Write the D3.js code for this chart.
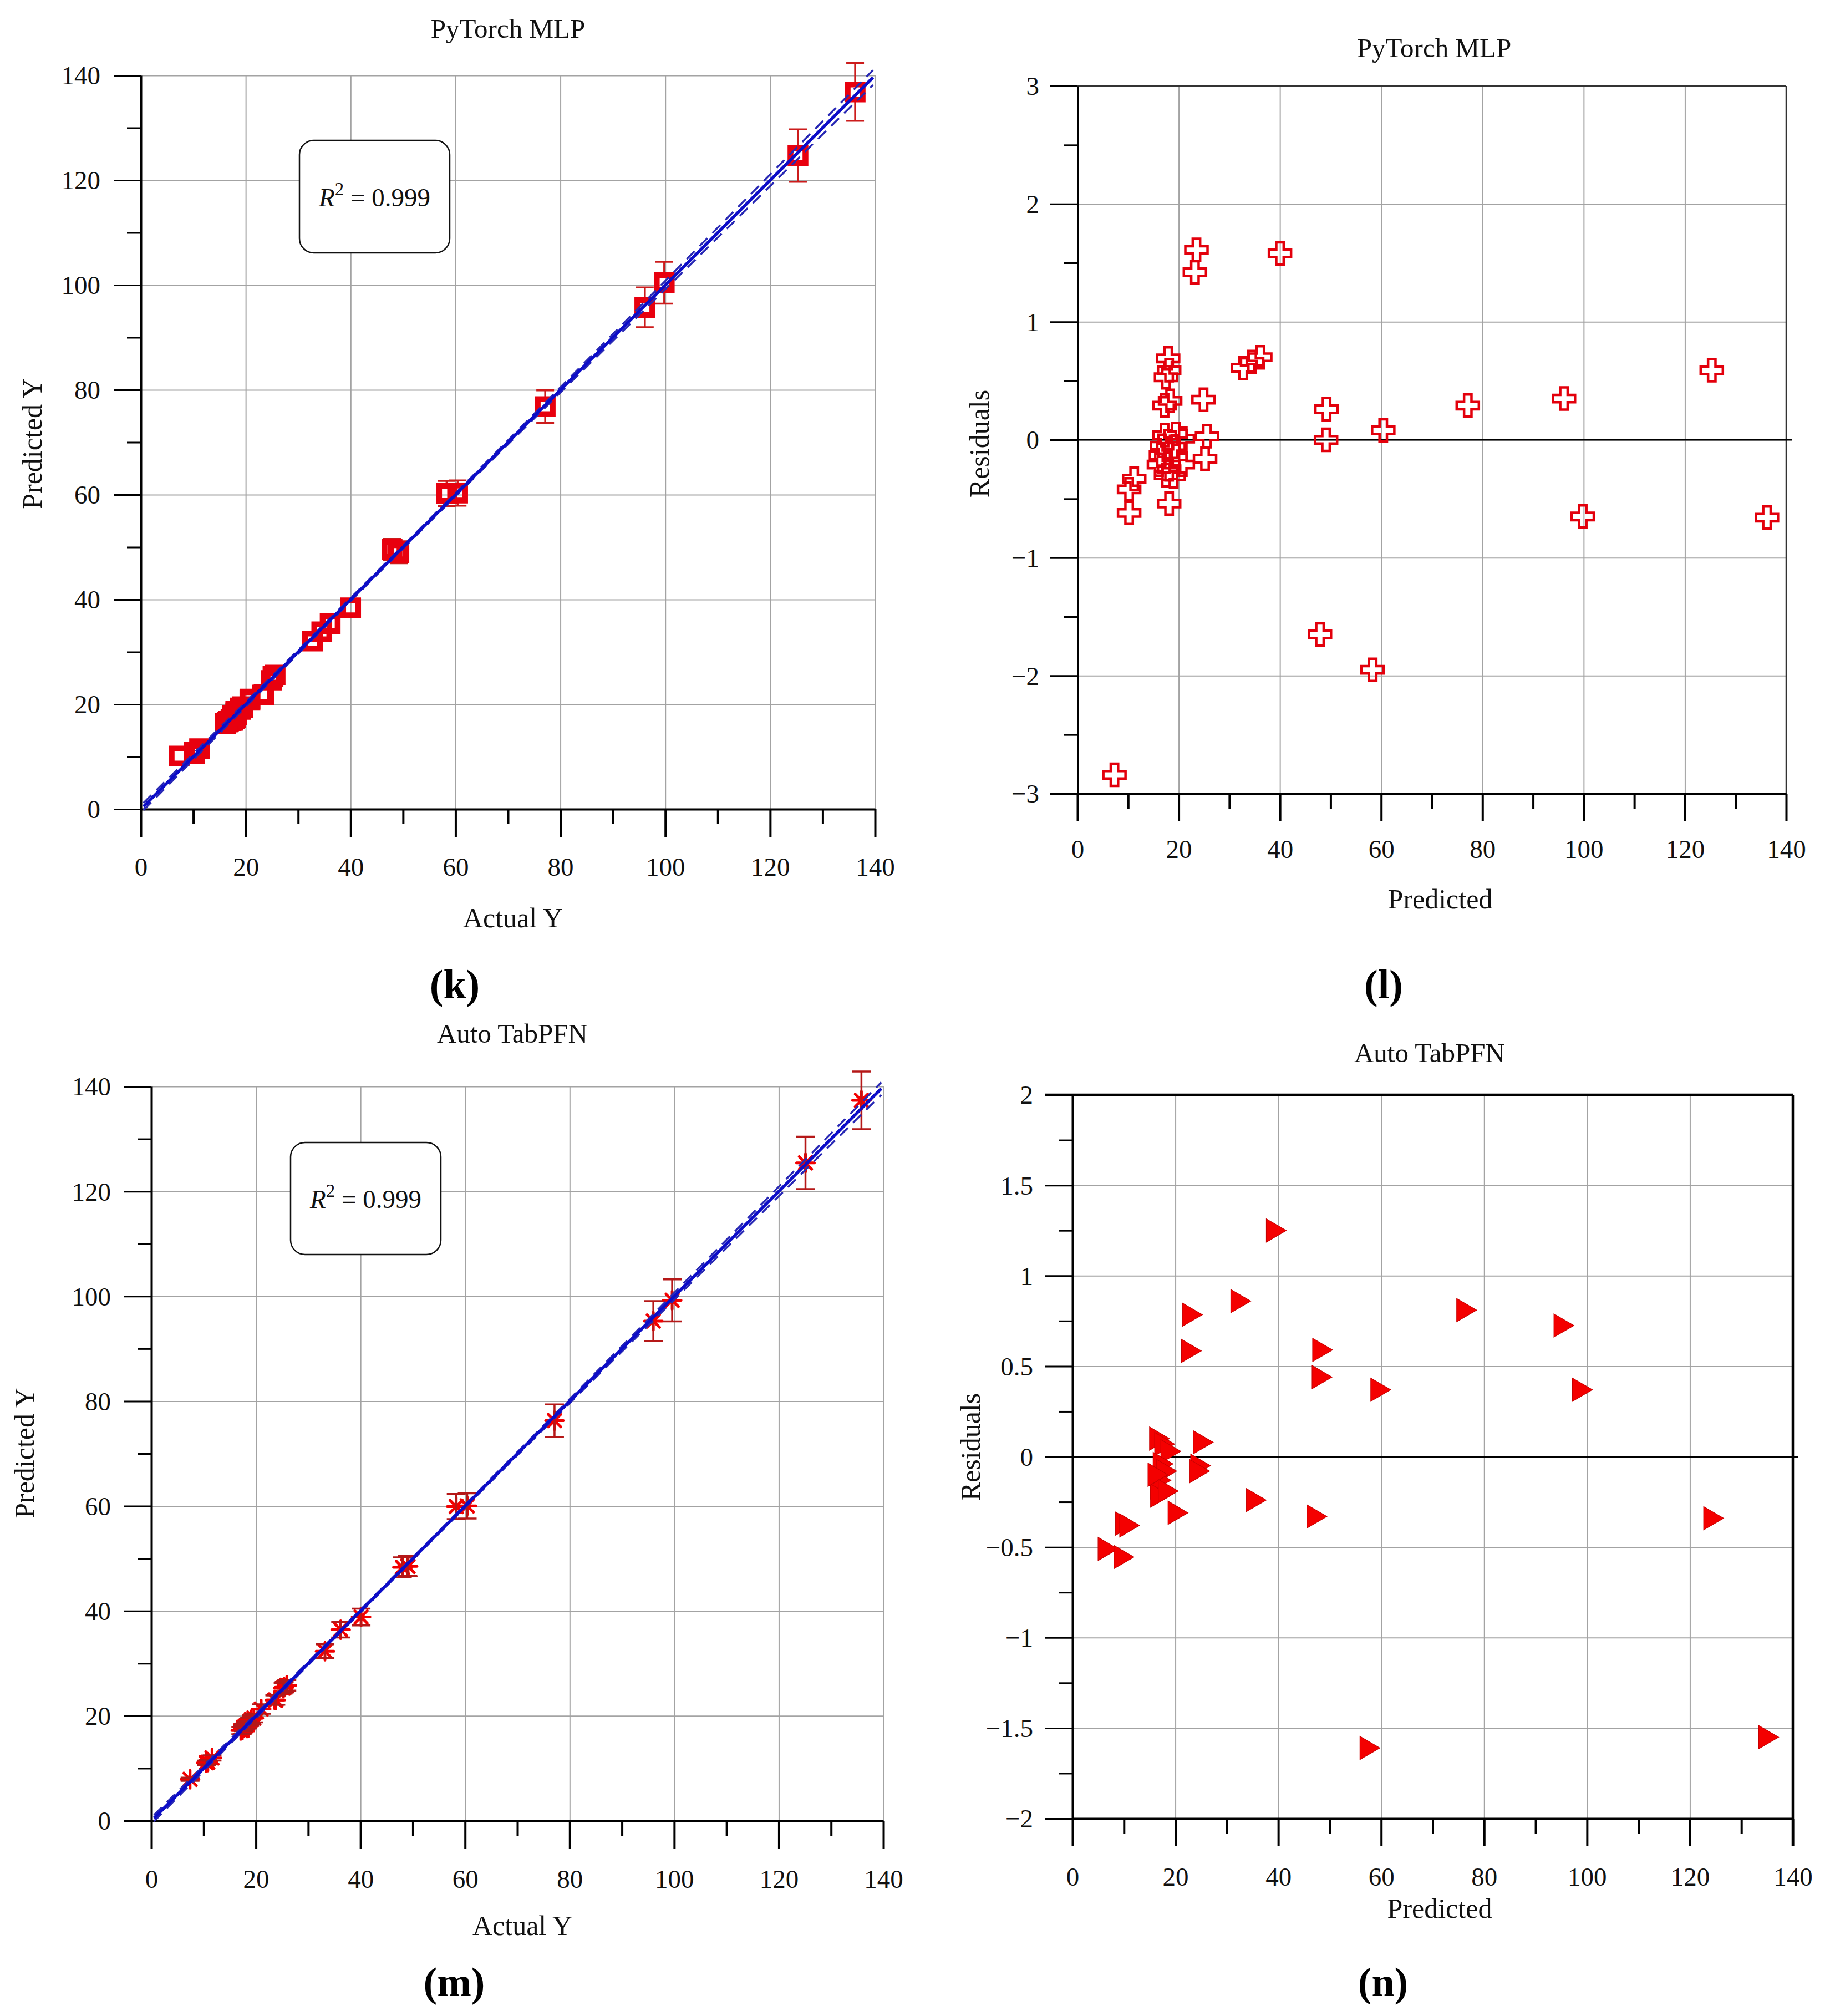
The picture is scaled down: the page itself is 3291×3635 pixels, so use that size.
<!DOCTYPE html>
<html><head><meta charset="utf-8">
<script src="https://cdn.jsdelivr.net/npm/d3@7"></script>
<style>body{margin:0;background:#fff} svg text{font-family:'Liberation Serif','Times New Roman',serif}</style>
</head><body><svg id="c" width="3291" height="3635"></svg>
<script>
// ---------------- DATA ----------------
const parityTicks = [0, 20, 40, 60, 80, 100, 120, 140];
const parityMinor = [10, 30, 50, 70, 90, 110, 130];
const resXTicks = [0, 20, 40, 60, 80, 100, 120, 140];
const resXMinor = [10, 30, 50, 70, 90, 110, 130];
const resTicksMLP = [-3, -2, -1, 0, 1, 2, 3];
const resMinorMLP = [-2.5, -1.5, -0.5, 0.5, 1.5, 2.5];
const resTicksTab = [-2, -1.5, -1, -0.5, 0, 0.5, 1, 1.5, 2];
const resMinorTab = [-1.75, -1.25, -0.75, -0.25, 0.25, 0.75, 1.25, 1.75];

const titles = ["PyTorch MLP", "PyTorch MLP", "Auto TabPFN", "Auto TabPFN"];
const panelLabels = ["(k)", "(l)", "(m)", "(n)"];
const r2Text = "0.999";

// PyTorch MLP : actual vs predicted (k)
const mlpActual = [7.3, 10.2, 10.2, 11.2, 17.9, 18.1, 17.5, 18.3, 17.2, 18.1, 17.2, 19.4, 20.8, 16.7, 19.0, 16.5, 19.4, 16.1, 20.8, 18.1, 19.0, 17.5, 23.5, 23.2, 24.9, 25.6, 25.2, 32.7, 34.5, 36.1, 40.0, 49.2, 49.1, 47.9, 58.3, 60.4, 77.1, 96.1, 99.8, 125.3, 136.2];
const mlpPredicted = [10.14, 10.82, 10.62, 11.53, 17.21, 17.51, 16.97, 17.97, 16.91, 18.64, 17.16, 19.35, 20.79, 16.75, 19.06, 16.63, 19.54, 16.31, 21.01, 18.35, 19.31, 17.80, 21.89, 21.78, 24.56, 25.57, 25.36, 32.09, 33.84, 35.40, 38.42, 48.94, 49.10, 49.55, 60.25, 60.32, 76.81, 95.75, 100.45, 124.71, 136.86];
const mlpError = [0.4, 0.4, 0.4, 0.5, 0.7, 0.7, 0.7, 0.7, 0.7, 0.7, 0.7, 0.8, 0.8, 0.7, 0.8, 0.7, 0.8, 0.7, 0.8, 0.7, 0.8, 0.7, 0.9, 0.9, 1.0, 1.0, 1.0, 1.3, 1.4, 1.4, 1.5, 2.0, 2.0, 2.0, 2.4, 2.4, 3.1, 3.8, 4.0, 5.0, 5.5];
// PyTorch MLP : residuals (l)
const mlpResX = [7.3, 10.2, 10.2, 11.2, 17.9, 18.1, 17.5, 18.3, 17.2, 18.1, 17.2, 19.4, 20.8, 16.7, 19.0, 16.5, 19.4, 16.1, 20.8, 18.1, 19.0, 17.5, 23.5, 23.2, 24.9, 25.6, 25.2, 32.7, 34.5, 36.1, 40.0, 49.2, 49.1, 47.9, 58.3, 60.4, 77.1, 96.1, 99.8, 125.3, 136.2];
const mlpResiduals = [-2.84, -0.62, -0.42, -0.33, 0.69, 0.59, 0.53, 0.33, 0.29, -0.54, 0.04, 0.05, 0.01, -0.05, -0.06, -0.13, -0.14, -0.21, -0.21, -0.25, -0.31, -0.30, 1.61, 1.42, 0.34, 0.03, -0.16, 0.61, 0.66, 0.70, 1.58, 0.26, 0.00, -1.65, -1.95, 0.08, 0.29, 0.35, -0.65, 0.59, -0.66];

// Auto TabPFN : actual vs predicted (m)
const tabActual = [7.4, 10.5, 10.8, 11.6, 17.4, 18.4, 19.6, 18.1, 18.8, 17.7, 17.6, 17.6, 21.0, 23.6, 23.8, 25.9, 25.4, 25.2, 33.2, 36.2, 40.1, 49.1, 49.0, 48.0, 58.3, 60.4, 77.1, 96.0, 99.6, 125.1, 135.8, 17.1, 19.1];
const tabPredicted = [7.91, 11.06, 11.17, 11.98, 17.30, 18.33, 19.57, 18.14, 18.88, 17.83, 17.77, 17.82, 21.31, 23.02, 23.02, 25.82, 25.45, 25.28, 32.34, 36.44, 38.85, 48.51, 48.56, 48.33, 59.91, 60.03, 76.29, 95.28, 99.23, 125.44, 137.35, 17.20, 19.29];
const tabError = [0.3, 0.4, 0.4, 0.5, 0.7, 0.7, 0.8, 0.7, 0.8, 0.7, 0.7, 0.7, 0.9, 0.9, 0.9, 1.0, 1.0, 1.0, 1.3, 1.5, 1.6, 1.9, 1.9, 1.9, 2.4, 2.4, 3.1, 3.8, 4.0, 5.0, 5.5, 0.7, 0.8];
// Auto TabPFN : residuals (n)
const tabResX = [6.8, 9.9, 10.2, 11.0, 16.8, 17.8, 19.0, 17.5, 18.2, 17.1, 17.0, 17.0, 20.4, 23.0, 23.2, 25.3, 24.8, 24.6, 32.6, 35.6, 39.5, 48.5, 48.4, 47.4, 57.7, 59.8, 76.5, 95.4, 99.0, 124.5, 135.2, 16.5, 18.5];
const tabResiduals = [-0.51, -0.555, -0.37, -0.38, 0.10, 0.07, 0.03, -0.04, -0.08, -0.13, -0.17, -0.215, -0.31, 0.585, 0.785, 0.08, -0.05, -0.08, 0.86, -0.24, 1.25, 0.59, 0.44, -0.33, -1.61, 0.37, 0.81, 0.725, 0.37, -0.34, -1.55, -0.10, -0.19];

// fitted line and confidence band (half widths)
const fitX = [0.5, 139.6];
const fitY = [0.5, 139.6];
const bandX = [0.5, 20, 40, 60, 80, 100, 120, 139.6];
const bandHalfMLP = [0.7, 0.45, 0.3, 0.3, 0.5, 0.8, 1.1, 1.4];
const bandHalfTab = [0.6, 0.4, 0.25, 0.25, 0.4, 0.65, 0.9, 1.2];

// ---------------- DRAW ----------------
const FONT = "'Liberation Serif','Times New Roman',serif";
const svg = d3.select('#c');
svg.append('rect').attr('width', 3291).attr('height', 3635).attr('fill', '#fff');
svg.attr('font-family', FONT);

const GRID = '#a3a3a3';

function drawAxes(g, x, y, o) {
  const [x0, x1] = x.range(), [y0, y1] = y.range();
  // grids
  g.append('g').attr('transform', `translate(0,${y0})`)
    .call(d3.axisBottom(x).tickValues(o.xTicks).tickSize(-(y0 - y1)).tickFormat('').tickSizeOuter(0))
    .call(s => s.select('.domain').remove())
    .call(s => s.selectAll('line').attr('stroke', GRID).attr('stroke-width', 2));
  g.append('g').attr('transform', `translate(${x0},0)`)
    .call(d3.axisLeft(y).tickValues(o.yTicks).tickSize(-(x1 - x0)).tickFormat('').tickSizeOuter(0))
    .call(s => s.select('.domain').remove())
    .call(s => s.selectAll('line').attr('stroke', GRID).attr('stroke-width', 2));
  if (o.frame) {
    g.append('line').attr('x1', x0 - 49).attr('x2', x1).attr('y1', y1).attr('y2', y1)
      .attr('stroke', o.frame.color).attr('stroke-width', o.frame.w);
    g.append('line').attr('x1', x1).attr('x2', x1).attr('y1', y1).attr('y2', y0 + (o.frameBottom || 0))
      .attr('stroke', o.frame.color).attr('stroke-width', o.frame.w);
  }
  if (o.zeroLine) {
    g.append('line').attr('x1', x0).attr('x2', x1 + 10).attr('y1', y(0)).attr('y2', y(0))
      .attr('stroke', '#000').attr('stroke-width', 3);
  }
  // minor ticks
  g.append('g').attr('transform', `translate(0,${y0})`)
    .call(d3.axisBottom(x).tickValues(o.xMinor).tickSize(27).tickFormat('').tickSizeOuter(0))
    .call(s => s.select('.domain').remove())
    .call(s => s.selectAll('line').attr('stroke', '#000').attr('stroke-width', 4));
  g.append('g').attr('transform', `translate(${x0},0)`)
    .call(d3.axisLeft(y).tickValues(o.yMinor).tickSize(25).tickFormat('').tickSizeOuter(0))
    .call(s => s.select('.domain').remove())
    .call(s => s.selectAll('line').attr('stroke', '#000').attr('stroke-width', 3));
  // major axes
  const fmt = d => (d < 0 ? '\u2212' + Math.abs(d) : '' + d);
  g.append('g').attr('transform', `translate(0,${y0})`)
    .call(d3.axisBottom(x).tickValues(o.xTicks).tickSize(50).tickFormat(fmt).tickSizeOuter(0))
    .attr('font-family', FONT).attr('font-size', 47)
    .call(s => s.select('.domain').attr('stroke', '#000').attr('stroke-width', 4))
    .call(s => s.selectAll('.tick line').attr('stroke', '#000').attr('stroke-width', 4))
    .call(s => s.selectAll('text').attr('y', o.xLabOff).attr('dy', null)
      .attr('fill', '#111').style('font-size', '47px').style('font-family', FONT));
  g.append('g').attr('transform', `translate(${x0},0)`)
    .call(d3.axisLeft(y).tickValues(o.yTicks).tickSize(49).tickFormat(fmt).tickSizeOuter(0))
    .attr('font-family', FONT).attr('font-size', 47)
    .call(s => s.select('.domain').attr('stroke', '#000').attr('stroke-width', o.yAxisW || 4))
    .call(s => s.selectAll('.tick line').attr('stroke', '#000').attr('stroke-width', 3))
    .call(s => s.selectAll('text').attr('x', -o.yLabOff).attr('dy', '0.34em')
      .attr('fill', '#111').style('font-size', '47px').style('font-family', FONT));
}

function texts(g, o) {
  g.append('text').attr('x', o.title[0]).attr('y', o.title[1]).attr('text-anchor', 'middle')
    .style('font-size', '49px').attr('fill', '#111').text(o.titleText);
  g.append('text').attr('transform', `translate(${o.yTitle[0]},${o.yTitle[1]}) rotate(-90)`)
    .attr('text-anchor', 'middle').attr('dy', '0.34em').style('font-size', '50px').attr('fill', '#111')
    .text(o.yTitleText);
  g.append('text').attr('x', o.xTitle[0]).attr('y', o.xTitle[1]).attr('text-anchor', 'middle')
    .style('font-size', '50px').attr('fill', '#111').text(o.xTitleText);
  g.append('text').attr('x', o.label[0]).attr('y', o.label[1]).attr('text-anchor', 'middle')
    .style('font-size', '74px').style('font-weight', 'bold').attr('fill', '#000').text(o.labelText);
}

function fitLines(g, x, y, half) {
  const line = d3.line().x(d => x(d[0])).y(d => y(d[1]));
  const band = d3.line().x(d => x(d[0])).y(d => y(d[1])).curve(d3.curveCatmullRom);
  const up = bandX.map((v, i) => [v, v + half[i]]);
  const lo = bandX.map((v, i) => [v, v - half[i]]);
  [up, lo].forEach(pts => g.append('path').attr('d', band(pts)).attr('fill', 'none')
    .attr('stroke', '#2828b4').attr('stroke-width', 3.5).attr('stroke-dasharray', '20,13'));
  g.append('path').attr('d', line(fitX.map((v, i) => [v, fitY[i]]))).attr('fill', 'none')
    .attr('stroke', '#0c0cc8').attr('stroke-width', 5.5);
}

function r2Box(g, bx, by, bw, bh) {
  g.append('rect').attr('x', bx).attr('y', by).attr('width', bw).attr('height', bh)
    .attr('rx', 26).attr('ry', 26).attr('fill', '#fff').attr('stroke', '#111').attr('stroke-width', 2.5);
  const t = g.append('text').attr('x', bx + bw / 2).attr('y', by + bh / 2 + 17)
    .attr('text-anchor', 'middle').style('font-size', '47px').attr('fill', '#111');
  t.append('tspan').style('font-style', 'italic').text('R');
  t.append('tspan').attr('dy', -20).style('font-size', '33px').text('2');
  t.append('tspan').attr('dy', 20).text(' = ' + r2Text);
}

// ---------- Panel k ----------
{
  const g = svg.append('g');
  const x = d3.scaleLinear().domain([0, 140]).range([254, 1578]);
  const y = d3.scaleLinear().domain([0, 140]).range([1459, 136]);
  drawAxes(g, x, y, { xTicks: parityTicks, yTicks: parityTicks, xMinor: parityMinor, yMinor: parityMinor, xLabOff: 120, yLabOff: 73 });
  const pts = mlpActual.map((a, i) => ({ a, p: mlpPredicted[i], e: mlpError[i] }));
  const half = 18;
  const eb = g.append('g').attr('stroke', '#cc1c1c').attr('stroke-width', 3.5);
  pts.forEach(d => {
    const cx = x(d.a), cy = y(d.p), top = y(d.p + d.e), bot = y(d.p - d.e);
    if (cy - top > half) {
      eb.append('line').attr('x1', cx).attr('x2', cx).attr('y1', top).attr('y2', cy - half);
      eb.append('line').attr('x1', cx).attr('x2', cx).attr('y1', bot).attr('y2', cy + half);
      eb.append('line').attr('x1', cx - 16).attr('x2', cx + 16).attr('y1', top).attr('y2', top);
      eb.append('line').attr('x1', cx - 16).attr('x2', cx + 16).attr('y1', bot).attr('y2', bot);
    }
  });
  g.append('g').selectAll('path').data(pts).join('path')
    .attr('d', d3.symbol(d3.symbolSquare, 27 * 27)())
    .attr('transform', d => `translate(${x(d.a)},${y(d.p)})`)
    .attr('fill', 'none').attr('stroke', '#e8000e').attr('stroke-width', 10.5);
  fitLines(g, x, y, bandHalfMLP);
  r2Box(g, 540, 253, 271, 203);
  texts(g, { title: [916, 68], titleText: titles[0], yTitle: [58, 800], yTitleText: 'Predicted Y',
    xTitle: [925, 1672], xTitleText: 'Actual Y', label: [820, 1800], labelText: panelLabels[0] });
}

// ---------- Panel l ----------
{
  const g = svg.append('g');
  const x = d3.scaleLinear().domain([0, 140]).range([1943, 3221]);
  const y = d3.scaleLinear().domain([-3, 3]).range([1431, 155]);
  drawAxes(g, x, y, { xTicks: resXTicks, yTicks: resTicksMLP, xMinor: resXMinor, yMinor: resMinorMLP,
    xLabOff: 116, yLabOff: 69, frame: { color: '#333', w: 2.5 }, zeroLine: true, yAxisW: 3 });
  const pts = mlpResX.map((v, i) => ({ v, r: mlpResiduals[i] }));
  g.append('g').selectAll('path').data(pts).join('path')
    .attr('d', d3.symbol(d3.symbolCross, 889)())
    .attr('transform', d => `translate(${x(d.v)},${y(d.r)})`)
    .attr('fill', 'none').attr('stroke', '#e3000c').attr('stroke-width', 4.5);
  texts(g, { title: [2586, 103], titleText: titles[1], yTitle: [1766, 800], yTitleText: 'Residuals',
    xTitle: [2597, 1638], xTitleText: 'Predicted', label: [2495, 1800], labelText: panelLabels[1] });
}

// ---------- Panel m ----------
{
  const g = svg.append('g');
  const x = d3.scaleLinear().domain([0, 140]).range([273, 1593]);
  const y = d3.scaleLinear().domain([0, 140]).range([3283, 1959]);
  drawAxes(g, x, y, { xTicks: parityTicks, yTicks: parityTicks, xMinor: parityMinor, yMinor: parityMinor, xLabOff: 121, yLabOff: 73 });
  const pts = tabActual.map((a, i) => ({ a, p: tabPredicted[i], e: tabError[i] }));
  const star = 'M-16,0L16,0M0,-16L0,16M-11.3,-11.3L11.3,11.3M-11.3,11.3L11.3,-11.3';
  g.append('g').selectAll('path').data(pts).join('path')
    .attr('d', star).attr('transform', d => `translate(${x(d.a)},${y(d.p)})`)
    .attr('fill', 'none').attr('stroke', '#f20000').attr('stroke-width', 5).attr('stroke-linecap', 'round');
  const eb = g.append('g').attr('stroke', '#b51818').attr('stroke-width', 3.5);
  pts.forEach(d => {
    const cx = x(d.a), top = y(d.p + d.e), bot = y(d.p - d.e);
    eb.append('line').attr('x1', cx).attr('x2', cx).attr('y1', top).attr('y2', bot);
    eb.append('line').attr('x1', cx - 17).attr('x2', cx + 17).attr('y1', top).attr('y2', top);
    eb.append('line').attr('x1', cx - 17).attr('x2', cx + 17).attr('y1', bot).attr('y2', bot);
  });
  fitLines(g, x, y, bandHalfTab);
  r2Box(g, 524, 2060, 271, 202);
  texts(g, { title: [924, 1880], titleText: titles[2], yTitle: [44, 2620], yTitleText: 'Predicted Y',
    xTitle: [942, 3489], xTitleText: 'Actual Y', label: [819, 3599], labelText: panelLabels[2] });
}

// ---------- Panel n ----------
{
  const g = svg.append('g');
  const x = d3.scaleLinear().domain([0, 140]).range([1934, 3233]);
  const y = d3.scaleLinear().domain([-2, 2]).range([3279, 1974]);
  drawAxes(g, x, y, { xTicks: resXTicks, yTicks: resTicksTab, xMinor: resXMinor, yMinor: resMinorTab,
    xLabOff: 121, yLabOff: 71, frame: { color: '#000', w: 4.5 }, frameBottom: 50, zeroLine: true });
  const pts = tabResX.map((v, i) => ({ v, r: tabResiduals[i] }));
  g.append('g').selectAll('path').data(pts).join('path')
    .attr('d', 'M-17,-21L19,0L-17,21Z')
    .attr('transform', d => `translate(${x(d.v)},${y(d.r)})`)
    .attr('fill', '#f40000').attr('stroke', '#c80000').attr('stroke-width', 1.2);
  texts(g, { title: [2578, 1915], titleText: titles[3], yTitle: [1750, 2609], yTitleText: 'Residuals',
    xTitle: [2596, 3458], xTitleText: 'Predicted', label: [2494, 3599], labelText: panelLabels[3] });
}
</script></body></html>
